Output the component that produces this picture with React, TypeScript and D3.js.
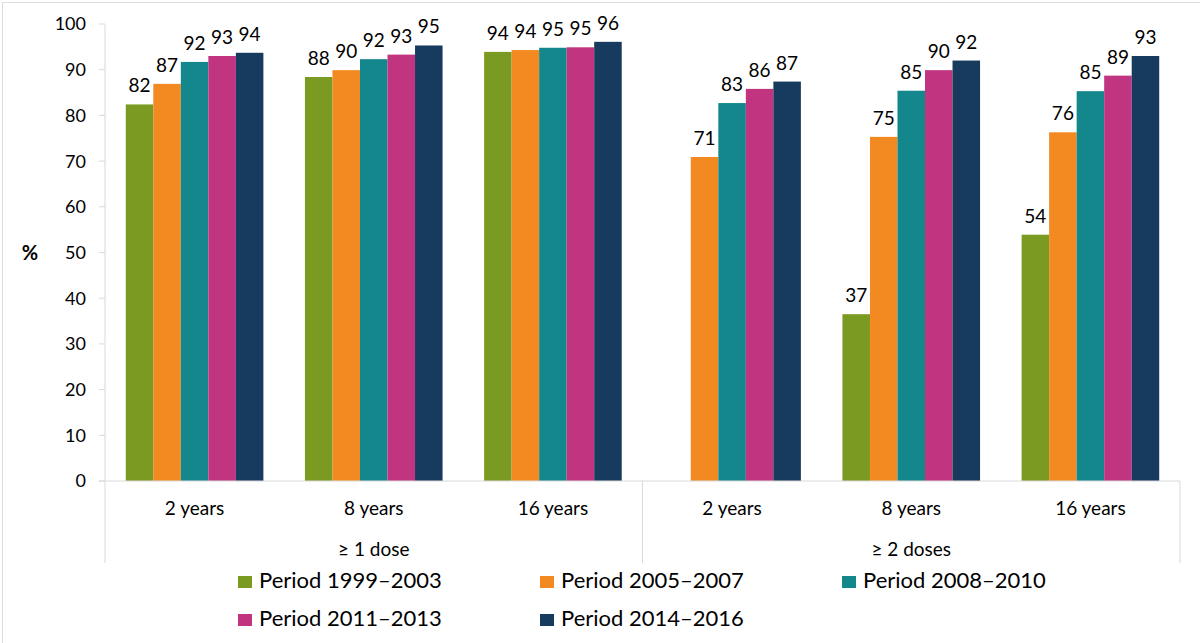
import { useEffect } from "react";
import * as d3 from "d3";

const groups = ["≥ 1 dose", "≥ 2 doses"];
const ages = ["2 years", "8 years", "16 years"];
const periods = [
    "Period 1999–2003",
    "Period 2005–2007",
    "Period 2008–2010",
    "Period 2011–2013",
    "Period 2014–2016",
];
const colors = ["#7a9a22", "#f28a21", "#14878c", "#c1347f", "#173b5e"];

// one row per group/age, one value per period (null = no data)
const dose1 = [
    [82.4, 86.9, 91.7, 93.0, 93.7],
    [88.4, 89.9, 92.3, 93.3, 95.3],
    [93.9, 94.3, 94.8, 94.9, 96.1],
];
const dose2 = [
    [null, 70.9, 82.7, 85.8, 87.4],
    [36.5, 75.3, 85.4, 89.9, 92.0],
    [53.9, 76.3, 85.3, 88.7, 93.0],
];
const yTicks = [0, 10, 20, 30, 40, 50, 60, 70, 80, 90, 100];

const W = 1200;
const H = 643;
const FONT = "Lato, 'Open Sans', sans-serif";
const AXIS = "#d9d9d9";

export default function App ()
{
    useEffect( () =>
    {
        document.body.style.margin = "0";
    }, [] );

    const cats = groups.flatMap( ( g ) => ages.map( ( a ) => `${ g }|${ a }` ) );
    const rows = [ ...dose1, ...dose2 ];

    const left = 105, right = 1180, top = 24, base = 481;
    const x0 = d3.scaleBand<string>().domain( cats ).range( [ left, right ] );
    const x1 = d3.scaleBand<string>().domain( periods ).range( [ 0, x0.bandwidth() ] )
        .paddingInner( 0 ).paddingOuter( 0.755 );
    const y = d3.scaleLinear().domain( [ 0, 100 ] ).range( [ base, top ] );

    const groupX = d3.scaleBand<string>().domain( groups ).range( [ left, right ] );
    const sepBottom = 563;

    return (
        <svg width={ W } height={ H } style={ { display: "block", fontFamily: FONT } }>
            <rect x={ 0 } y={ 0 } width={ W } height={ H } fill="#fff" />
            <rect x={ 2.5 } y={ 2.5 } width={ W + 10 } height={ H + 10 } fill="none" stroke="#dcdcdc" />

            {/* y axis */ }
            <line x1={ left } x2={ left } y1={ top } y2={ sepBottom } stroke={ AXIS } />
            { yTicks.map( ( t ) => (
                <g key={ t }>
                    <line x1={ left - 6 } x2={ left } y1={ y( t ) } y2={ y( t ) } stroke={ AXIS } />
                    <text x={ 86 } y={ y( t ) } dy="0.36em" textAnchor="end" fontSize={ 18 } fill="#000">{ t }</text>
                </g>
            ) ) }
            <text x={ 30 } y={ y( 50 ) } dy="0.36em" textAnchor="middle" fontSize={ 20 } fontWeight={ 700 }>%</text>

            {/* bars */ }
            { cats.map( ( c, i ) => (
                <g key={ c } transform={ `translate(${ x0( c ) },0)` }>
                    { periods.map( ( p, j ) =>
                    {
                        const v = rows[ i ][ j ];
                        if ( v == null ) return null;
                        const bx = x1( p )!;
                        return (
                            <g key={ p }>
                                <rect x={ bx } width={ x1.bandwidth() } y={ y( v ) } height={ base - y( v ) } fill={ colors[ j ] } />
                                <text x={ bx + x1.bandwidth() / 2 } y={ y( v ) - 12 } textAnchor="middle" fontSize={ 19 } fill="#000">
                                    { Math.round( v ) }
                                </text>
                            </g>
                        );
                    } ) }
                    <text x={ x0.bandwidth() / 2 } y={ 515 } textAnchor="middle" fontSize={ 19 } fill="#000">
                        { c.split( "|" )[ 1 ] }
                    </text>
                </g>
            ) ) }

            {/* x axis */ }
            <line x1={ left - 6 } x2={ right } y1={ base } y2={ base } stroke={ AXIS } />
            { groups.map( ( g ) => (
                <g key={ g }>
                    <line x1={ groupX( g )! + groupX.bandwidth() } x2={ groupX( g )! + groupX.bandwidth() } y1={ base } y2={ sepBottom } stroke={ AXIS } />
                    <text x={ groupX( g )! + groupX.bandwidth() / 2 } y={ 556 } textAnchor="middle" fontSize={ 19 } fill="#000">{ g }</text>
                </g>
            ) ) }

            {/* legend */ }
            { periods.map( ( p, j ) =>
            {
                const col = j % 3, row = Math.floor( j / 3 );
                const lx = 238 + col * 302;
                const ly = 588 + row * 38;
                return (
                    <g key={ p }>
                        <rect x={ lx } y={ ly - 12 } width={ 14 } height={ 12 } fill={ colors[ j ] } />
                        <text x={ lx + 21 } y={ ly } fontSize={ 22 } fill="#000">{ p }</text>
                    </g>
                );
            } ) }
        </svg>
    );
}
